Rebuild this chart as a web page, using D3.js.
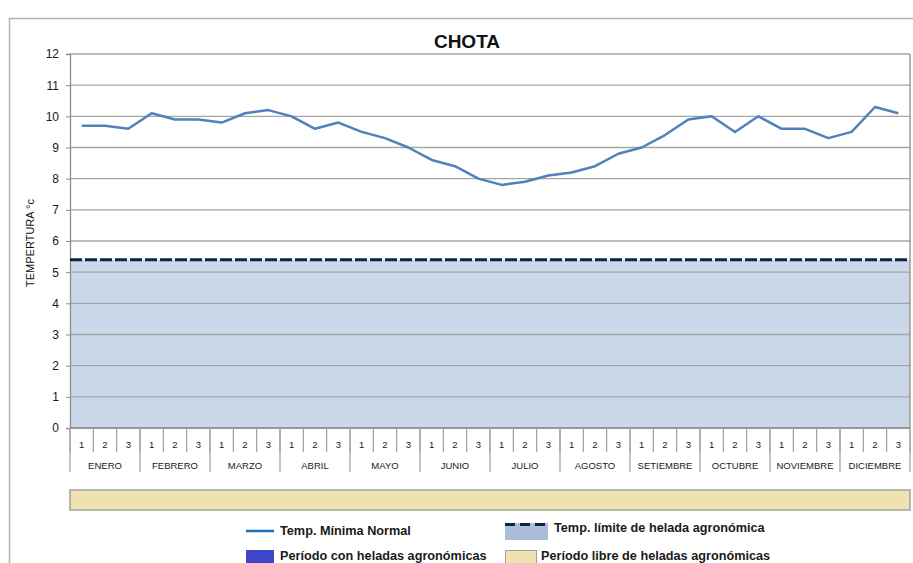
<!DOCTYPE html>
<html>
<head>
<meta charset="utf-8">
<script src="https://cdn.jsdelivr.net/npm/d3@7"></script>
<style>
  body { margin: 0; background: #fff; }
  svg { display: block; font-family: "Liberation Sans", Arial, sans-serif; }
</style>
</head>
<body>
<svg id="chart_svg" width="913" height="563"></svg>
<script>
// data
const months = ["ENERO", "FEBRERO", "MARZO", "ABRIL", "MAYO", "JUNIO", "JULIO",
  "AGOSTO", "SETIEMBRE", "OCTUBRE", "NOVIEMBRE", "DICIEMBRE"];
const decades = ["1", "2", "3"];
const tempMin = [9.7, 9.7, 9.6, 10.1, 9.9, 9.9, 9.8, 10.1, 10.2, 10.0, 9.6, 9.8,
  9.5, 9.3, 9.0, 8.6, 8.4, 8.0, 7.8, 7.9, 8.1, 8.2, 8.4, 8.8,
  9.0, 9.4, 9.9, 10.0, 9.5, 10.0, 9.6, 9.6, 9.3, 9.5, 10.3, 10.1];
const frostLimit = 5.4;
const yTicks = [0, 1, 2, 3, 4, 5, 6, 7, 8, 9, 10, 11, 12];

const svg = d3.select("#chart_svg");
const margin = { top: 54, left: 70, right: 3, bottom: 135 };
const width = 913, height = 563;

// outer frame
svg.append("rect")
  .attr("x", 9.5).attr("y", 18.5)
  .attr("width", 920).attr("height", 560)
  .attr("fill", "none").attr("stroke", "#b3b3b3").attr("stroke-width", 1.5);

const keys = [];
months.forEach(m => decades.forEach(d => keys.push(m + "_" + d)));

const x = d3.scaleBand().domain(keys).range([margin.left, width - margin.right]);
const xMonth = d3.scaleBand().domain(months).range([margin.left, width - margin.right]);
const y = d3.scaleLinear().domain([0, 12]).range([height - margin.bottom, margin.top]);

// frost area
svg.append("rect")
  .attr("x", margin.left).attr("y", y(frostLimit))
  .attr("width", width - margin.right - margin.left)
  .attr("height", y(0) - y(frostLimit))
  .attr("fill", "#cad8ea");

// gridlines
svg.append("g").selectAll("line").data(yTicks).join("line")
  .attr("x1", margin.left).attr("x2", width - margin.right)
  .attr("y1", d => y(d)).attr("y2", d => y(d))
  .attr("stroke", "#a6a6a6").attr("stroke-width", 1.3);

// y axis
const yAxis = svg.append("g")
  .attr("transform", `translate(${margin.left},0)`)
  .call(d3.axisLeft(y).tickValues(yTicks).tickSize(4).tickPadding(7));
yAxis.select(".domain").attr("stroke", "#8c8c8c").attr("stroke-width", 1.3);
yAxis.selectAll(".tick line").attr("stroke", "#8c8c8c");
yAxis.selectAll("text").attr("font-size", 12).attr("fill", "#1a1a1a");

// right border
svg.append("line")
  .attr("x1", width - margin.right).attr("x2", width - margin.right)
  .attr("y1", margin.top).attr("y2", y(0))
  .attr("stroke", "#8c8c8c").attr("stroke-width", 1.3);

// y label
svg.append("text")
  .attr("transform", `translate(34,${(y(0) + y(12)) / 2 + 2}) rotate(-90)`)
  .attr("text-anchor", "middle")
  .attr("font-size", 11)
  .attr("fill", "#111")
  .text("TEMPERTURA °c");

// x axis: decades and months
const gx = svg.append("g");
gx.append("line")
  .attr("x1", margin.left).attr("x2", width - margin.right)
  .attr("y1", y(0)).attr("y2", y(0))
  .attr("stroke", "#8c8c8c").attr("stroke-width", 1.5);
gx.selectAll(".dsep").data(keys.concat(["end"])).join("line")
  .attr("class", "dsep")
  .attr("x1", (d, i) => i < keys.length ? x(d) : width - margin.right)
  .attr("x2", (d, i) => i < keys.length ? x(d) : width - margin.right)
  .attr("y1", y(0)).attr("y2", y(0) + 24)
  .attr("stroke", "#a6a6a6").attr("stroke-width", 1.3);
gx.selectAll(".msep").data(months.concat(["end"])).join("line")
  .attr("class", "msep")
  .attr("x1", (d, i) => i < months.length ? xMonth(d) : width - margin.right)
  .attr("x2", (d, i) => i < months.length ? xMonth(d) : width - margin.right)
  .attr("y1", y(0)).attr("y2", y(0) + 44)
  .attr("stroke", "#a6a6a6").attr("stroke-width", 1.3);
gx.selectAll(".dlab").data(keys).join("text")
  .attr("class", "dlab")
  .attr("x", d => x(d) + x.bandwidth() / 2)
  .attr("y", y(0) + 20)
  .attr("text-anchor", "middle")
  .attr("font-size", 9.5)
  .attr("fill", "#1a1a1a")
  .text(d => d.split("_")[1]);
gx.selectAll(".mlab").data(months).join("text")
  .attr("class", "mlab")
  .attr("x", d => xMonth(d) + xMonth.bandwidth() / 2)
  .attr("y", y(0) + 41)
  .attr("text-anchor", "middle")
  .attr("font-size", 9.5)
  .attr("fill", "#1a1a1a")
  .text(d => d);

// frost-free period bar
svg.append("rect")
  .attr("x", margin.left).attr("y", 490)
  .attr("width", width - margin.right - margin.left).attr("height", 20)
  .attr("fill", "#f0e2b0").attr("stroke", "#a0a0a0").attr("stroke-width", 1.5);

// frost limit dashed line
svg.append("line")
  .attr("x1", margin.left).attr("x2", width - margin.right)
  .attr("y1", y(frostLimit)).attr("y2", y(frostLimit))
  .attr("stroke", "#10233f").attr("stroke-width", 3)
  .attr("stroke-dasharray", "12,3");

// temperature line
const line = d3.line()
  .x((d, i) => x(keys[i]) + x.bandwidth() / 2)
  .y(d => y(d));
svg.append("path")
  .datum(tempMin)
  .attr("d", line)
  .attr("fill", "none")
  .attr("stroke", "#4f81bd")
  .attr("stroke-width", 2.5)
  .attr("stroke-linejoin", "round");

// title
svg.append("text")
  .attr("x", 467).attr("y", 48)
  .attr("text-anchor", "middle")
  .attr("font-size", 19).attr("font-weight", "bold")
  .attr("fill", "#111")
  .text("CHOTA");

// legend
const lg = svg.append("g").attr("font-size", 12.7).attr("font-weight", "bold").attr("fill", "#1a1a1a");
lg.append("line").attr("x1", 246).attr("x2", 274).attr("y1", 531).attr("y2", 531)
  .attr("stroke", "#1170c4").attr("stroke-width", 2.5);
lg.append("text").attr("x", 280).attr("y", 535).text("Temp. Mínima Normal");

lg.append("rect").attr("x", 505).attr("y", 523).attr("width", 43).attr("height", 17).attr("fill", "#a9bcd9");
lg.append("line").attr("x1", 505).attr("x2", 548).attr("y1", 524.5).attr("y2", 524.5)
  .attr("stroke", "#10233f").attr("stroke-width", 3).attr("stroke-dasharray", "10,5");
lg.append("text").attr("x", 554).attr("y", 532).text("Temp. límite de helada agronómica");

lg.append("rect").attr("x", 246).attr("y", 550).attr("width", 28).attr("height", 15).attr("fill", "#3d46c6");
lg.append("text").attr("x", 280).attr("y", 560).text("Período con heladas agronómicas");

lg.append("rect").attr("x", 505.5).attr("y", 550.5).attr("width", 31).attr("height", 15)
  .attr("fill", "#f0e2b0").attr("stroke", "#a0a0a0");
lg.append("text").attr("x", 541).attr("y", 560).text("Período libre de heladas agronómicas");
</script>
</body>
</html>
